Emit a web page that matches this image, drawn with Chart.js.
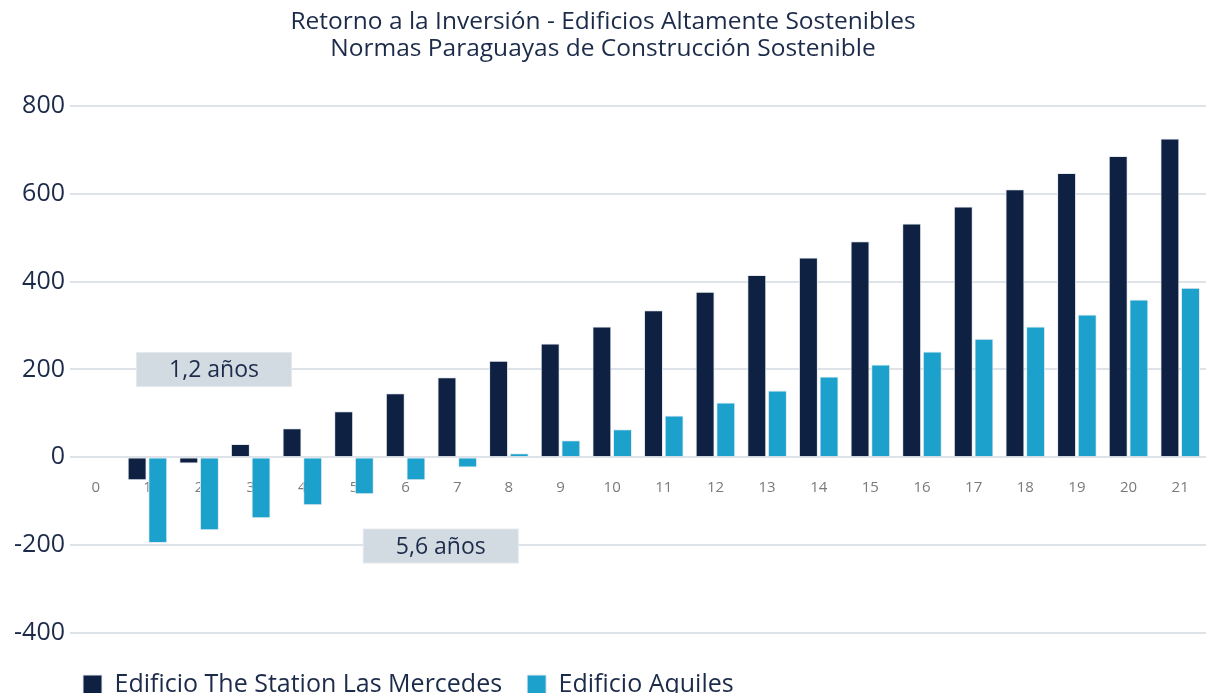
<!DOCTYPE html>
<html>
<head>
<meta charset="utf-8">
<script src="https://cdn.jsdelivr.net/npm/chart.js@4"></script>
<style>
  html, body { margin: 0; padding: 0; background: #fff; }
  #wrap { width: 1210px; height: 693px; }
</style>
</head>
<body>
<div id="wrap"><canvas id="roiChart"></canvas></div>
<script>
const YEARS = ['0','1','2','3','4','5','6','7','8','9','10','11','12','13','14','15','16','17','18','19','20','21'];
const STATION = [0, -52, -14, 30, 66, 105, 146, 182, 220, 259, 298, 335, 377, 415, 455, 492, 532, 571, 610, 647, 686, 726];
const AQUILES = [0, -195, -166, -139, -109, -84, -52, -23, 9, 39, 64, 95, 125, 152, 184, 211, 241, 270, 298, 325, 359, 386];
const Y_TICKS = [-400, -200, 0, 200, 400, 600, 800];

// payback notes, placed in data units
const NOTE_TEXT = ['1,2 años', '5,6 años'];
const NOTE_X = [2.29, 6.68];
const NOTE_Y = [200, -202];

const NAVY = '#0f2143';
const BLUE = '#1ba1cc';
const TEXT = '#1c2b4a';
const FONT = "'Open Sans', sans-serif";

const notesPlugin = {
  id: 'notes',
  afterDatasetsDraw(chart) {
    const {ctx, scales} = chart;
    ctx.save();
    NOTE_TEXT.forEach((t, i) => {
      const cx = scales.x.getPixelForValue(NOTE_X[i]);
      const cy = scales.y.getPixelForValue(NOTE_Y[i]);
      const w = 155, h = 34;
      ctx.fillStyle = '#d3dbe2';
      ctx.fillRect(cx - w / 2, cy - h / 2, w, h);
      ctx.strokeStyle = '#e4e9ed';
      ctx.lineWidth = 1;
      ctx.strokeRect(cx - w / 2, cy - h / 2, w, h);
      ctx.fillStyle = TEXT;
      ctx.font = "23px " + FONT;
      ctx.textAlign = 'center';
      ctx.textBaseline = 'middle';
      ctx.fillText(t, cx, cy + 1);
    });
    ctx.restore();
  }
};

// legend sits left-aligned under the plot in the original
const legendNudge = {
  id: 'legendNudge',
  afterLayout(chart) {
    chart.legend.left += 58;
    chart.legend.top += 14;
  }
};

new Chart(document.getElementById('roiChart'), {
  type: 'bar',
  data: {
    labels: YEARS,
    datasets: [
      {label: 'Edificio The Station Las Mercedes', data: STATION, backgroundColor: NAVY,
       borderColor: '#e6ebef', borderWidth: 1, categoryPercentage: 0.8, barPercentage: 0.92},
      {label: 'Edificio Aquiles', data: AQUILES, backgroundColor: BLUE,
       borderColor: '#e6ebef', borderWidth: 1, categoryPercentage: 0.8, barPercentage: 0.92}
    ]
  },
  options: {
    responsive: true,
    maintainAspectRatio: false,
    animation: false,
    layout: {padding: {left: 0, right: 4, top: 0, bottom: 0}},
    plugins: {
      title: {
        display: true,
        text: ['Retorno a la Inversión - Edificios Altamente Sostenibles',
               'Normas Paraguayas de Construcción Sostenible'],
        color: TEXT,
        font: {family: FONT, size: 24.5, weight: 'normal', lineHeight: 1.12},
        padding: {top: 8, bottom: 43}
      },
      legend: {
        position: 'bottom',
        align: 'start',
        labels: {
          color: TEXT,
          font: {family: FONT, size: 25},
          boxWidth: 19, boxHeight: 19,
          padding: 25
        }
      },
      tooltip: {enabled: false}
    },
    scales: {
      x: {
        position: {y: 0},
        grid: {display: false, drawTicks: false},
        border: {display: false},
        ticks: {color: '#7a7a7a', font: {family: FONT, size: 15}, padding: 21}
      },
      y: {
        min: -400, max: 800,
        afterBuildTicks: s => { s.ticks = Y_TICKS.map(v => ({value: v})); },
        afterFit: s => { s.width = 70; },
        grid: {color: '#dde3e8', lineWidth: 2, drawTicks: false},
        border: {display: false},
        ticks: {color: TEXT, font: {family: FONT, size: 25}, padding: 5}
      }
    }
  },
  plugins: [notesPlugin, legendNudge]
});
</script>
</body>
</html>
